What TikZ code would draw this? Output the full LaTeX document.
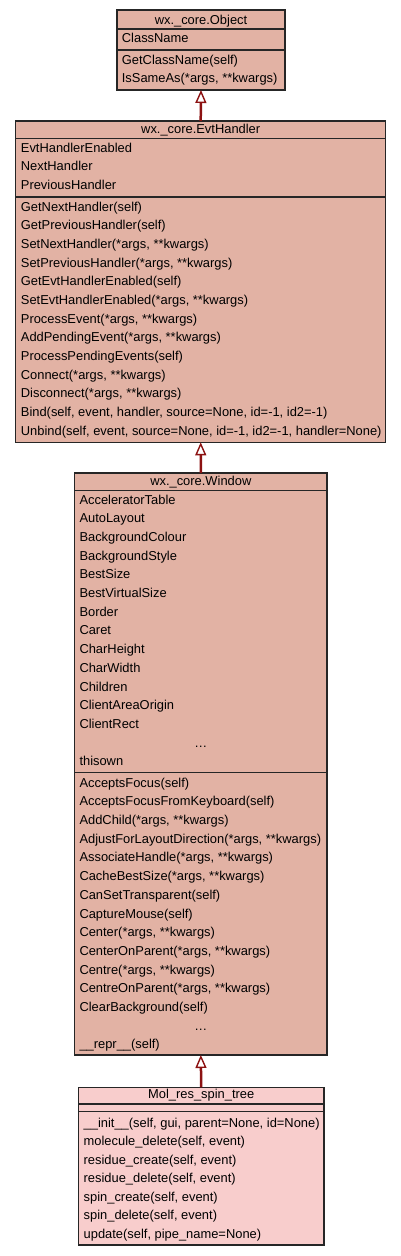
\documentclass[tikz,border=0pt]{standalone}
\usepackage{fontspec}
\setmainfont{Liberation Sans}
\usepackage{color}
\definecolor{myclassfill}{RGB}{226,178,164}
\definecolor{myleaffill}{RGB}{248,205,204}
\definecolor{myarrowred}{RGB}{140,18,18}
\usepackage{tikz}
\usetikzlibrary{arrows.meta,positioning,calc}
\tikzstyle{classbox}=[draw=black!85,line width=1.2pt,fill=myclassfill,rectangle,inner sep=0pt,outer sep=0pt,anchor=north west]
\tikzstyle{sepline}=[draw=black!85,line width=1.2pt]
\tikzstyle{member}=[anchor=base west,inner sep=0pt,font=\fontsize{12.9}{15}\selectfont]
\tikzstyle{classname}=[member,anchor=base]
\tikzstyle{isa}=[draw=myarrowred,line width=2.5pt,-{Triangle[open,length=13pt,width=11pt,line width=1.4pt]}]

\begin{document}
\begin{tikzpicture}[x=1pt,y=-1pt]
\useasboundingbox (0,0) rectangle (400,1256);

% wx._core.Object
\node [classbox,minimum width=168pt,minimum height=80pt] (object) at (117,10) {};
\draw [sepline] (object.west |- 0,29) -- (object.east |- 0,29);
\draw [sepline] (object.west |- 0,50) -- (object.east |- 0,50);
\node [classname] (object-t) at (201,24) {wx.\_core.Object};
\foreach \txt [count=\k from 0] in {ClassName}
  \node [member] (object-a\k) at (121.7,42.8+\k*18.67) {\txt};
\foreach \txt [count=\k from 0] in {GetClassName(self),{IsSameAs(*args, **kwargs)}}
  \node [member] (object-m\k) at (121.7,64+\k*18.2) {\txt};

% wx._core.EvtHandler
\node [classbox,minimum width=370pt,minimum height=321.3pt] (evthandler) at (15.7,121) {};
\draw [sepline] (evthandler.west |- 0,138.7) -- (evthandler.east |- 0,138.7);
\draw [sepline] (evthandler.west |- 0,197) -- (evthandler.east |- 0,197);
\node [classname] (evthandler-t) at (200.7,133.3) {wx.\_core.EvtHandler};
\foreach \txt [count=\k from 0] in {EvtHandlerEnabled,NextHandler,PreviousHandler}
  \node [member] (evthandler-a\k) at (20.7,152.3+\k*18.5) {\txt};
\foreach \txt [count=\k from 0] in {GetNextHandler(self),GetPreviousHandler(self),
    {SetNextHandler(*args, **kwargs)},{SetPreviousHandler(*args, **kwargs)},
    GetEvtHandlerEnabled(self),{SetEvtHandlerEnabled(*args, **kwargs)},
    {ProcessEvent(*args, **kwargs)},{AddPendingEvent(*args, **kwargs)},
    ProcessPendingEvents(self),{Connect(*args, **kwargs)},{Disconnect(*args, **kwargs)},
    {Bind(self, event, handler, source=None, id=-1, id2=-1)},
    {Unbind(self, event, source=None, id=-1, id2=-1, handler=None)}}
  \node [member] (evthandler-m\k) at (20.7,211+\k*18.67) {\txt};

% wx._core.Window
\node [classbox,minimum width=252.3pt,minimum height=582pt] (window) at (74.7,473) {};
\draw [sepline] (window.west |- 0,490.7) -- (window.east |- 0,490.7);
\draw [sepline] (window.west |- 0,772.3) -- (window.east |- 0,772.3);
\node [classname] (window-t) at (200.8,485) {wx.\_core.Window};
\foreach \txt [count=\k from 0] in {AcceleratorTable,AutoLayout,BackgroundColour,
    BackgroundStyle,BestSize,BestVirtualSize,Border,Caret,CharHeight,CharWidth,
    Children,ClientAreaOrigin,ClientRect}
  \node [member] (window-a\k) at (79.3,504.3+\k*18.67) {\txt};
\node [classname] (window-a13) at (200.8,504.3+13*18.67) {…};
\node [member] (window-a14) at (79.3,504.3+14*18.67) {thisown};
\foreach \txt [count=\k from 0] in {AcceptsFocus(self),AcceptsFocusFromKeyboard(self),
    {AddChild(*args, **kwargs)},{AdjustForLayoutDirection(*args, **kwargs)},
    {AssociateHandle(*args, **kwargs)},{CacheBestSize(*args, **kwargs)},
    CanSetTransparent(self),CaptureMouse(self),{Center(*args, **kwargs)},
    {CenterOnParent(*args, **kwargs)},{Centre(*args, **kwargs)},
    {CentreOnParent(*args, **kwargs)},ClearBackground(self)}
  \node [member] (window-m\k) at (79.3,787.3+\k*18.67) {\txt};
\node [classname] (window-m13) at (200.8,787.3+13*18.67) {…};
\node [member] (window-m14) at (79.3,787.3+14*18.67) {\_\_repr\_\_(self)};

% Mol_res_spin_tree
\node [classbox,fill=myleaffill,minimum width=245.7pt,minimum height=157.7pt] (spintree) at (78.3,1087.3) {};
\draw [sepline] (spintree.west |- 0,1104) -- (spintree.east |- 0,1104);
\draw [sepline] (spintree.west |- 0,1111.7) -- (spintree.east |- 0,1111.7);
\node [classname] (spintree-t) at (201.2,1098.3) {Mol\_res\_spin\_tree};
\foreach \txt [count=\k from 0] in {{\_\_init\_\_(self, gui, parent=None, id=None)},
    {molecule\_delete(self, event)},{residue\_create(self, event)},
    {residue\_delete(self, event)},{spin\_create(self, event)},
    {spin\_delete(self, event)},{update(self, pipe\_name=None)}}
  \node [member] (spintree-m\k) at (83.5,1127.3+\k*18.5) {\txt};

% inheritance
\draw [isa] (evthandler.north) -- (object.south);
\draw [isa] (window.north) -- (evthandler.south);
\draw [isa] (spintree.north) -- (window.south);
\end{tikzpicture}
\end{document}
